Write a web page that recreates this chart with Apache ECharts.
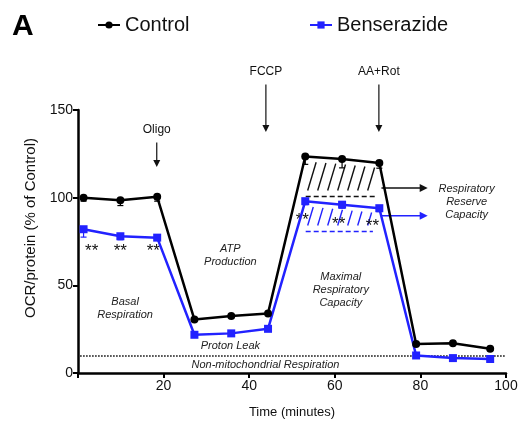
<!DOCTYPE html>
<html><head><meta charset="utf-8">
<script src="https://cdn.jsdelivr.net/npm/echarts@6/dist/echarts.min.js"></script>
<style>html,body{margin:0;padding:0;background:#fff}#c{width:520px;height:430px}</style>
</head><body><div id="c"></div>
<script>
// ---- data ----
const time = [1.3, 9.9, 18.5, 27.2, 35.8, 44.4, 53.1, 61.7, 70.4, 79.0, 87.6, 96.3];
const control = [100, 98.5, 100.5, 30.5, 32.5, 34, 123.5, 122, 119.8, 16.5, 17, 13.8];
const benserazide = [82, 78, 77.2, 21.8, 22.6, 25.2, 98, 96, 94, 10, 8.5, 8];
const controlErr = [2, 3, 2.5, 1, 1, 1, 4.5, 5, 3, 1, 1, 1];
const benserazideErr = [4.5, 2, 1.5, 1, 1, 1, 2, 2, 2, 1, 0.5, 0.5];
const xTicks = [0, 20, 40, 60, 80, 100];
const yTicks = [0, 50, 100, 150];
const nonMitoLevel = 9.7;
// injections: [label, x, labelY, arrowTopY, arrowBottomY]
const injections = [["Oligo", 18.4, 138.5, 131.5, 117.5], ["FCCP", 43.9, 172, 164.5, 137.5], ["AA+Rot", 70.3, 172, 164.5, 137.5]];
// region labels: [text lines, x, y of first line]
const regionLabels = [
  [["Basal", "Respiration"], 11.0, 40.7],
  [["ATP", "Production"], 35.6, 70.9],
  [["Maximal", "Respiratory", "Capacity"], 61.4, 54.7],
  [["Proton Leak"], 35.6, 15.4],
  [["Non-mitochondrial Respiration"], 43.8, 4.6],
  [["Respiratory", "Reserve", "Capacity"], 90.8, 105.1]
];
// significance marks: [x, y]
const stars = [[3.2, 72], [9.9, 72], [17.6, 72], [52.4, 89.7], [60.9, 87.8], [68.8, 86.5]];
// reserve capacity: dashed baseline levels and hatch ranges
const ctrlReserveBase = 100.7, benzReserveBase = 80.7;
const reserveStart = 53.2, ctrlReserveEnd = 70.0, benzReserveEnd = 68.9;
const reserveArrowY = [105.5, 89.7];
const reserveArrowX = [70.9, 81.7];

const FONT = '"Liberation Sans", Arial, Helvetica, sans-serif';
const BLUE = '#2222ff';

const chart = echarts.init(document.getElementById('c'));

function errItem(params, api, color) {
  const x = api.value(0), v = api.value(1), e = api.value(2);
  const p1 = api.coord([x, v]), p2 = api.coord([x, v - e]);
  return {type: 'group', children: [
    {type: 'line', shape: {x1: p1[0], y1: p1[1], x2: p2[0], y2: p2[1]}, style: {stroke: color, lineWidth: 1.2}},
    {type: 'line', shape: {x1: p2[0] - 3, y1: p2[1], x2: p2[0] + 3, y2: p2[1]}, style: {stroke: color, lineWidth: 1.2}}
  ]};
}

function interpY(pts, x) {
  if (x <= pts[0][0]) return pts[0][1];
  for (let i = 1; i < pts.length; i++) {
    if (x <= pts[i][0]) {
      const t = (x - pts[i-1][0]) / (pts[i][0] - pts[i-1][0]);
      return pts[i-1][1] + t * (pts[i][1] - pts[i-1][1]);
    }
  }
  return pts[pts.length-1][1];
}

function hatch(children, api, xs, ys, baseVal, x0, x1, color) {
  const pts = xs.map((t, i) => api.coord([t, ys[i]]));
  const base = api.coord([0, baseVal])[1];
  const px0 = api.coord([x0, 0])[0], px1 = api.coord([x1, 0])[0];
  children.push({type: 'line', shape: {x1: px0, y1: base, x2: px1, y2: base}, style: {stroke: color, lineWidth: 1.6, lineDash: [5, 3]}});
  const slope = 0.3, spacing = 10;
  for (let bx = px0 + 2; bx < px1 - 2; bx += spacing) {
    const by = base - 6;
    let x = bx, y = by;
    for (let k = 0; k < 6; k++) { y = interpY(pts, x) + 5; x = bx + slope * (by - y); }
    if (x > px1 + 4) continue;
    children.push({type: 'line', shape: {x1: bx, y1: by, x2: x, y2: y}, style: {stroke: color, lineWidth: 1.4}});
  }
}

function annotations(params, api) {
  const ch = [];
  const c = (x, y) => api.coord([x, y]);
  injections.forEach(([lab, x, ly, yt, yb]) => {
    const pl = c(x, ly), pt = c(x, yt), pb = c(x, yb);
    ch.push({type: 'text', x: pl[0], y: pl[1], style: {text: lab, font: '12px ' + FONT, fill: '#111', align: 'center', verticalAlign: 'middle'}});
    ch.push({type: 'line', shape: {x1: pt[0], y1: pt[1], x2: pb[0], y2: pb[1] - 5}, style: {stroke: '#111', lineWidth: 1.2}});
    ch.push({type: 'polygon', shape: {points: [[pb[0] - 3.5, pb[1] - 7], [pb[0] + 3.5, pb[1] - 7], [pb[0], pb[1]]]}, style: {fill: '#111'}});
  });
  hatch(ch, api, time.slice(6, 9), control.slice(6, 9), ctrlReserveBase, reserveStart, ctrlReserveEnd, '#111');
  hatch(ch, api, time.slice(6, 9), benserazide.slice(6, 9), benzReserveBase, reserveStart, benzReserveEnd, BLUE);
  reserveArrowY.forEach((yv, i) => {
    const col = i === 0 ? '#111' : BLUE;
    const a = c(reserveArrowX[0], yv), b = c(reserveArrowX[1], yv);
    ch.push({type: 'line', shape: {x1: a[0], y1: a[1], x2: b[0] - 6, y2: b[1]}, style: {stroke: col, lineWidth: 1.4}});
    ch.push({type: 'polygon', shape: {points: [[b[0] - 8, b[1] - 4], [b[0] - 8, b[1] + 4], [b[0], b[1]]]}, style: {fill: col}});
  });
  regionLabels.forEach(([lines, x, y]) => {
    const p = c(x, y);
    lines.forEach((t, i) => {
      ch.push({type: 'text', x: p[0], y: p[1] + i * 13, style: {text: t, font: 'italic 11px ' + FONT, fill: '#222', align: 'center', verticalAlign: 'middle'}});
    });
  });
  stars.forEach(([x, y]) => {
    const p = c(x, y);
    ch.push({type: 'text', x: p[0], y: p[1] + 5, style: {text: '**', font: '17px ' + FONT, fill: '#111', align: 'center', verticalAlign: 'middle'}});
  });
  return {type: 'group', children: ch};
}

const option = {
  animation: false,
  backgroundColor: '#fff',
  textStyle: {fontFamily: FONT},
  graphic: [
    {type: 'text', left: 12, top: 12, style: {text: 'A', font: 'bold 30px ' + FONT, fill: '#000'}},
    {type: 'text', x: 31, y: 228, rotation: Math.PI / 2, style: {text: 'OCR/protein (% of Control)', font: '15px ' + FONT, fill: '#111', align: 'center', verticalAlign: 'middle'}}
  ],
  legend: [
    {data: ['Control'], left: 92, top: 10, itemWidth: 22, itemHeight: 9, textStyle: {fontSize: 20, color: '#111', fontFamily: FONT}},
    {data: ['Benserazide'], left: 304, top: 10, itemWidth: 22, itemHeight: 9, textStyle: {fontSize: 20, color: '#111', fontFamily: FONT}}
  ],
  grid: {left: 78, right: 14, top: 110, bottom: 57, containLabel: false, outerBoundsMode: 'none'},
  xAxis: {
    type: 'value', min: xTicks[0], max: xTicks[xTicks.length - 1], interval: 20,
    name: 'Time (minutes)', nameLocation: 'middle', nameGap: 33,
    nameTextStyle: {fontSize: 13, color: '#111', fontFamily: FONT},
    axisLine: {lineStyle: {color: '#000', width: 2.5}},
    axisTick: {length: 5, lineStyle: {color: '#000', width: 2}},
    axisLabel: {fontSize: 14, color: '#111', margin: 6, formatter: v => (v === 0 ? '' : String(v))},
    splitLine: {show: false}
  },
  yAxis: {
    type: 'value', min: yTicks[0], max: yTicks[yTicks.length - 1], interval: 50,
    axisLine: {show: true, lineStyle: {color: '#000', width: 2.5}},
    axisTick: {show: true, length: 5, lineStyle: {color: '#000', width: 2}},
    axisLabel: {fontSize: 14, color: '#111', margin: 5},
    splitLine: {show: false}
  },
  series: [
    {name: 'nonmito', type: 'line', data: [[0.5, nonMitoLevel], [99.8, nonMitoLevel]], symbol: 'none', silent: true,
     lineStyle: {color: '#000', width: 1.3, type: [1.5, 1.5]}, z: 1},
    {name: 'annot', type: 'custom', data: [0], renderItem: annotations, clip: false, silent: true, z: 2},
    {name: 'ctrlErr', type: 'custom', data: time.map((t, i) => [t, control[i], controlErr[i]]), renderItem: (p, a) => errItem(p, a, '#000'), z: 3},
    {name: 'benzErr', type: 'custom', data: time.map((t, i) => [t, benserazide[i], benserazideErr[i]]), renderItem: (p, a) => errItem(p, a, BLUE), z: 3},
    {name: 'Control', type: 'line', data: time.map((t, i) => [t, control[i]]), symbol: 'circle', symbolSize: 8,
     itemStyle: {color: '#000'}, lineStyle: {color: '#000', width: 2.5}, z: 5},
    {name: 'Benserazide', type: 'line', data: time.map((t, i) => [t, benserazide[i]]), symbol: 'rect', symbolSize: 8,
     itemStyle: {color: BLUE}, lineStyle: {color: BLUE, width: 2.5}, z: 4}
  ]
};
chart.setOption(option);
</script></body></html>
